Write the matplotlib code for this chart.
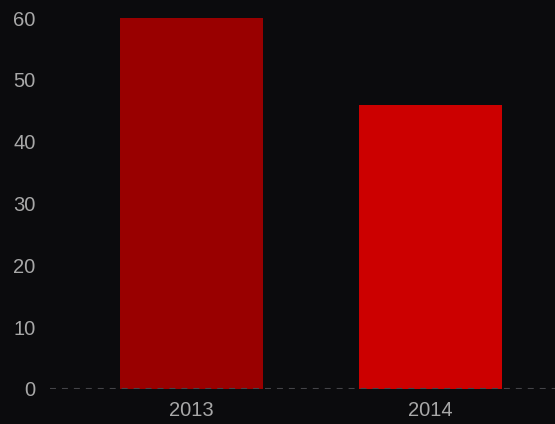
import matplotlib
matplotlib.use("Agg")
import matplotlib.pyplot as plt

plt.rcParams["lines.scale_dashes"] = False

categories = ["2013", "2014"]
values = [60, 46]
colors = ["#990000", "#cc0000"]

bg = "#0b0b0d"
fig = plt.figure(figsize=(5.55, 4.24), dpi=100, facecolor=bg)
ax = fig.add_axes([50/555, 35/424, 505/555, 371/424], facecolor=bg)
x = list(range(len(categories)))
ax.bar(x, values, width=0.598, color=colors, zorder=2)
ax.axhline(0, color="#444448", linestyle=(0, (4.3, 4.3)), linewidth=1.5, zorder=3)
ax.set_xlim(-0.592, 1.521)
ax.set_ylim(0, 60)
ax.set_xticks(x)
ax.set_xticklabels(categories)
ax.set_yticks([0, 10, 20, 30, 40, 50, 60])
for s in ax.spines.values():
    s.set_visible(False)
ax.tick_params(axis="both", length=0, colors="#a8a8a8", labelsize=14.5)
ax.tick_params(axis="y", pad=10.5)
ax.tick_params(axis="x", pad=9)
for lab in ax.get_xticklabels() + ax.get_yticklabels():
    lab.set_family("Liberation Sans")
fig.savefig("out.png", dpi=100, facecolor=bg)
